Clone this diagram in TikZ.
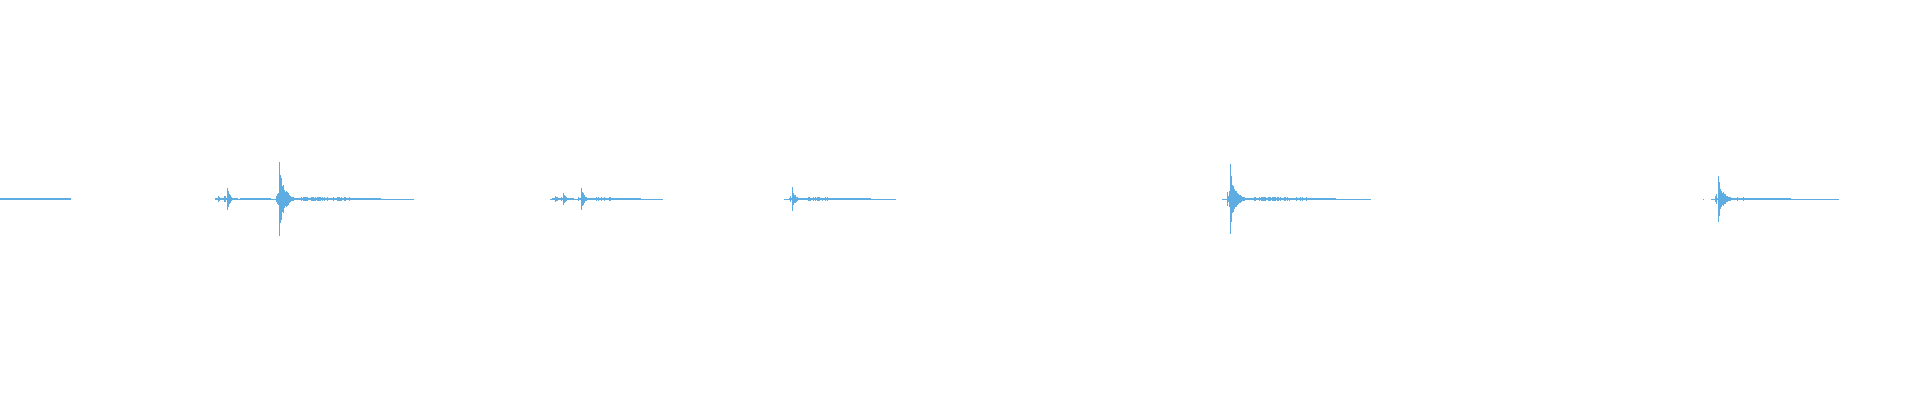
\documentclass[tikz,border=0pt]{standalone}
\definecolor{wavec}{HTML}{5DADE2}
\newcommand\wseg[2]{\draw[wave] (#1,199) -- (#2,199);}
\newcommand\wburst[4]{%
  \foreach \i in {-3,...,-1}{%
    \pgfmathsetmacro\a{max(0.6,#2*0.3*rnd)}%
    \draw[wave] ({#1+\i},{199-\a}) -- ({#1+\i},{199+\a});}%
  \draw[wave] (#1,{199-#2}) -- (#1,{199+#2});
  \foreach \i in {1,...,#4}{%
    \pgfmathsetmacro\a{max(0.6,#2*exp(-\i/#3)*(0.6+0.4*rnd))}%
    \draw[wave] ({#1+\i},{199-\a}) -- ({#1+\i},{199+\a});}%
}
\newcommand\wnoise[3]{% from, to, amp (linear fade)
  \foreach \i in {#1,...,#2}{%
    \pgfmathsetmacro\a{max(0.6,#3*(1-0.7*(\i-#1)/(#2-#1+1))*(0.35+0.65*rnd))}%
    \draw[wave] (\i,{199-\a}) -- (\i,{199+\a});}%
}
\begin{document}
\begin{tikzpicture}[x=1pt,y=-1pt,wave/.style={draw=wavec,line width=1pt}]
\pgfmathsetseed{7}
\useasboundingbox (0,0) rectangle (1920,400);
% segment 1
\wseg{0}{70}\wnoise{0}{70}{1.3}
% segment 2
\wseg{215}{414}
\wburst{218}{3}{3}{6}
\wburst{227}{11}{3}{10}
\wnoise{240}{270}{1.5}
\wburst{279}{37}{5}{22}
\wnoise{301}{380}{3}
% segment 3
\wseg{550}{663}
\wburst{555}{3}{3}{5}
\wburst{563}{6}{3}{10}
\wburst{581}{11}{3}{14}
\wnoise{596}{640}{2.2}
% segment 4
\wseg{784}{896}
\wburst{792}{12}{3}{14}
\wnoise{807}{870}{2.2}
% segment 5
\wseg{1222}{1371}
\wburst{1230}{35}{5}{22}
\wnoise{1253}{1335}{3}
% segment 6
\draw[wave] (1703,199) -- (1704,199);
\wseg{1711}{1839}
\wburst{1718}{23}{5}{18}
\wnoise{1737}{1790}{2}
\end{tikzpicture}
\end{document}
